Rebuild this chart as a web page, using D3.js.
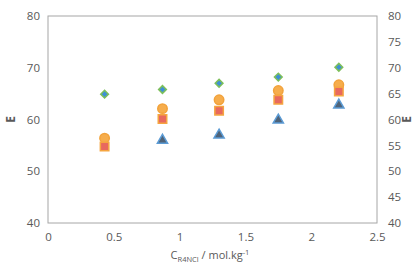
<!DOCTYPE html>
<html>
<head>
<meta charset="utf-8">
<script src="https://cdn.jsdelivr.net/npm/d3@7"></script>
<style>
  body { margin: 0; background: #fff; }
  text { font-family: "Open Sans", "DejaVu Sans", sans-serif; fill: #595959; }
</style>
</head>
<body>
<div class="canvas"></div>
<script>
// data
const conc = [0.43, 0.87, 1.3, 1.75, 2.21];
const diamondVals = [64.9, 65.8, 67.0, 68.2, 70.1];
const circleVals = [56.4, 62.1, 63.8, 65.6, 66.7];
const squareVals = [54.8, 60.1, 61.7, 63.8, 65.4];
const triangleVals = [null, 56.0, 57.0, 59.9, 62.8];
const xTicks = [0, 0.5, 1, 1.5, 2, 2.5];
const leftTicks = [40, 50, 60, 70, 80];
const rightTicks = [40, 45, 50, 55, 60, 65, 70, 75, 80];

const W = 416, H = 266;
const margin = {top: 16, right: 39, bottom: 43, left: 48};
const graphWidth = W - margin.left - margin.right;
const graphHeight = H - margin.top - margin.bottom;

const svg = d3.select('.canvas')
    .append('svg')
    .attr('width', W)
    .attr('height', H);

const graph = svg.append('g')
    .attr('transform', `translate(${margin.left}, ${margin.top})`);

const x = d3.scaleLinear().domain([0, 2.5]).range([0, graphWidth]);
const y = d3.scaleLinear().domain([40, 80]).range([graphHeight, 0]);

// frame
graph.append('rect')
    .attr('width', graphWidth)
    .attr('height', graphHeight)
    .attr('fill', 'none')
    .attr('stroke', '#a6a6a6')
    .attr('stroke-width', 1);

// axes
const xAxis = d3.axisBottom(x).tickValues(xTicks).tickSize(0).tickPadding(10)
    .tickFormat(d => d);
const yAxis = d3.axisLeft(y).tickValues(leftTicks).tickSize(0).tickPadding(8);
const yAxisR = d3.axisRight(y).tickValues(rightTicks).tickSize(0).tickPadding(11);

const xg = graph.append('g').attr('transform', `translate(0, ${graphHeight})`).call(xAxis);
const yg = graph.append('g').call(yAxis);
const yr = graph.append('g').attr('transform', `translate(${graphWidth}, 0)`).call(yAxisR);
[xg, yg, yr].forEach(g => {
    g.select('.domain').remove();
    g.selectAll('text').attr('font-size', 11.5).attr('fill', '#595959');
});

// axis titles
svg.append('text')
    .attr('transform', `translate(15, ${margin.top + y(60)}) rotate(-90)`)
    .attr('text-anchor', 'middle')
    .attr('font-size', 12)
    .attr('font-weight', 'bold')
    .text('E');
svg.append('text')
    .attr('transform', `translate(${W - 5}, ${margin.top + y(60)}) rotate(-90)`)
    .attr('text-anchor', 'middle')
    .attr('font-size', 12)
    .attr('font-weight', 'bold')
    .text('E');

const xt = svg.append('text')
    .attr('x', 210)
    .attr('y', 259)
    .attr('text-anchor', 'middle')
    .attr('font-size', 11);
xt.append('tspan').text('C');
xt.append('tspan').attr('font-size', 7.5).attr('dy', 3).text('R4NCl');
xt.append('tspan').attr('dy', -3).text(' / mol.kg');
xt.append('tspan').attr('font-size', 7.5).attr('dy', -4).text('-1');

// series
const series = [
    {vals: circleVals, sym: d3.symbolCircle, size: 70, fill: '#f6ad4c', stroke: '#f2a23a', rot: 0},
    {vals: squareVals, sym: d3.symbolSquare, size: 72, fill: '#e8695e', stroke: '#f5a540', rot: 0},
    {vals: triangleVals, sym: d3.symbolTriangle, size: 45, fill: '#4f6378', stroke: '#5b9bd5', rot: 0},
    {vals: diamondVals, sym: d3.symbolSquare, size: 30, fill: '#3f8fd6', stroke: '#7dbf5a', rot: 45}
];

series.forEach(s => {
    const pts = conc.map((c, i) => ({c, v: s.vals[i]})).filter(d => d.v != null);
    graph.selectAll(null)
        .data(pts)
        .enter()
        .append('path')
            .attr('d', d3.symbol().type(s.sym).size(s.size))
            .attr('transform', d => `translate(${x(d.c)}, ${y(d.v)}) rotate(${s.rot})`)
            .attr('fill', s.fill)
            .attr('stroke', s.stroke)
            .attr('stroke-width', 1.5);
});
</script>
</body>
</html>
